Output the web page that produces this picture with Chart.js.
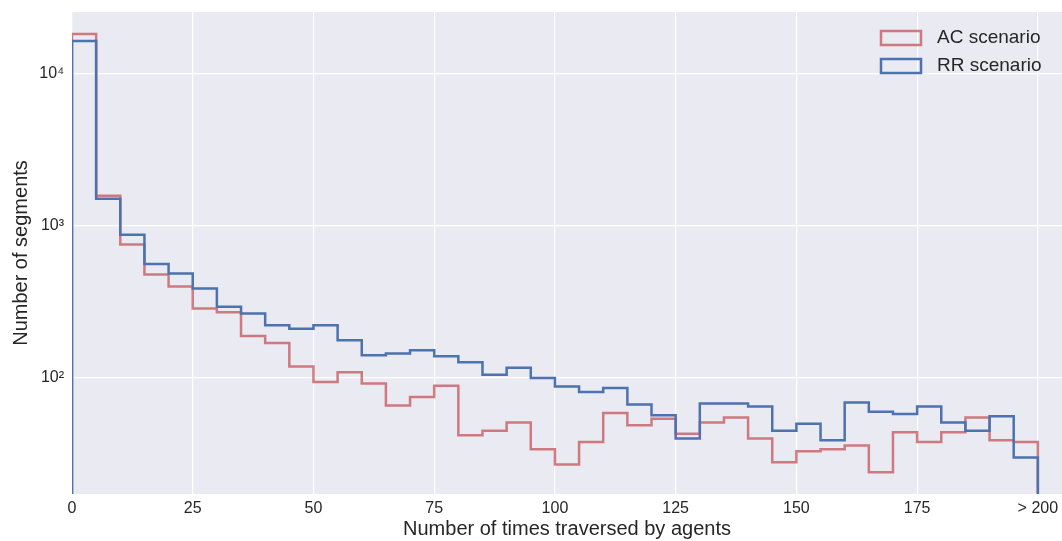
<!DOCTYPE html>
<html>
<head>
<meta charset="utf-8">
<script src="https://cdn.jsdelivr.net/npm/chart.js@4.4.1/dist/chart.umd.min.js"></script>
<style>
  html, body { margin: 0; padding: 0; background: #ffffff; }
  #chart { display: block; }
</style>
</head>
<body>
<canvas id="chart" width="1062" height="541"></canvas>
<script>
// histogram bin edges (width 5), last bin holds "> 200"
const binEdges = [0, 5, 10, 15, 20, 25, 30, 35, 40, 45, 50, 55, 60, 65, 70, 75, 80, 85, 90, 95,
  100, 105, 110, 115, 120, 125, 130, 135, 140, 145, 150, 155, 160, 165, 170, 175, 180, 185, 190, 195, 200];

// counts per bin
const acCounts = [18200, 1575, 753, 479, 400, 286, 270, 189, 170, 119,
  94, 109, 92, 66, 75, 89, 42, 45, 51, 34,
  27, 38, 59, 49, 54, 43, 51, 55, 40, 28,
  33, 34, 36, 24, 44, 38, 44, 55, 39, 38];
const rrCounts = [16400, 1505, 873, 562, 486, 387, 294, 265, 222, 211,
  222, 177, 141, 145, 152, 139, 127, 105, 117, 100,
  88, 81, 86, 67, 57, 40, 68, 68, 65, 45,
  50, 39, 69, 60, 58, 65, 51, 45, 56, 30];

const seriesNames = ['AC scenario', 'RR scenario'];

const xTicks = [0, 25, 50, 75, 100, 125, 150, 175, 200];
const xTickLabels = ['0', '25', '50', '75', '100', '125', '150', '175', '> 200'];
const yTicks = [100, 1000, 10000];
const yTickLabels = ['10\u00B2', '10\u00B3', '10\u2074'];

const FONT = '"Liberation Sans", Arial, sans-serif';
const TEXT = '#262626';
const acColor = 'rgba(196, 78, 82, 0.72)';
const rrColor = '#4C72B0';

// outline of a step histogram (like histtype='step'), dropping to the floor at both ends
function stepOutline(counts) {
  const floor = 1;
  const pts = [{ x: binEdges[0], y: floor }];
  counts.forEach((c, i) => {
    pts.push({ x: binEdges[i], y: c });
    pts.push({ x: binEdges[i + 1], y: c });
  });
  pts.push({ x: binEdges[binEdges.length - 1], y: floor });
  return pts;
}

const plotBg = {
  id: 'plotBg',
  beforeDraw(chart) {
    const { ctx, chartArea: a } = chart;
    ctx.save();
    ctx.fillStyle = '#EAEAF2';
    ctx.fillRect(a.left, a.top, a.right - a.left, a.bottom - a.top);
    ctx.restore();
  }
};

// seaborn-like legend: hollow boxes, top right inside the axes
const boxLegend = {
  id: 'boxLegend',
  afterDraw(chart) {
    const { ctx } = chart;
    const entries = [
      { label: seriesNames[0], color: acColor },
      { label: seriesNames[1], color: rrColor }
    ];
    ctx.save();
    ctx.font = '19px ' + FONT;
    ctx.textBaseline = 'middle';
    entries.forEach((e, i) => {
      const cy = 38 + i * 28;
      ctx.strokeStyle = e.color;
      ctx.lineWidth = 2.5;
      ctx.strokeRect(881, cy - 7, 40, 14);
      ctx.fillStyle = TEXT;
      ctx.fillText(e.label, 937, cy);
    });
    ctx.restore();
  }
};

new Chart(document.getElementById('chart'), {
  type: 'line',
  data: {
    datasets: [
      {
        label: seriesNames[0],
        data: stepOutline(acCounts),
        borderColor: acColor,
        borderWidth: 2.5,
        pointRadius: 0,
        fill: false,
        order: 1
      },
      {
        label: seriesNames[1],
        data: stepOutline(rrCounts),
        borderColor: rrColor,
        borderWidth: 2.5,
        pointRadius: 0,
        fill: false,
        order: 0
      }
    ]
  },
  options: {
    responsive: false,
    animation: false,
    devicePixelRatio: 1,
    layout: { padding: { top: 12, right: 0, left: 0, bottom: 0 } },
    plugins: {
      legend: { display: false },
      tooltip: { enabled: false }
    },
    scales: {
      x: {
        type: 'linear',
        min: 0,
        max: 205,
        afterBuildTicks: s => { s.ticks = xTicks.map(v => ({ value: v })); },
        afterFit: s => { s.height = 47; s.paddingLeft = 0; s.paddingRight = 0; },
        grid: { color: '#ffffff', lineWidth: 1.2, drawTicks: false },
        border: { display: false },
        ticks: {
          color: TEXT,
          padding: 5,
          maxRotation: 0,
          font: { family: FONT, size: 16 },
          callback: (v, i) => xTickLabels[i]
        },
        title: {
          display: true,
          text: 'Number of times traversed by agents',
          color: TEXT,
          font: { family: FONT, size: 20 },
          padding: 0
        }
      },
      y: {
        type: 'logarithmic',
        min: 17.3,
        max: 25400,
        afterBuildTicks: s => { s.ticks = yTicks.map(v => ({ value: v })); },
        afterFit: s => { s.width = 72; s.paddingTop = 0; s.paddingBottom = 0; },
        grid: { color: '#ffffff', lineWidth: 1.2, drawTicks: false },
        border: { display: false },
        ticks: {
          color: TEXT,
          padding: 8,
          font: { family: FONT, size: 16 },
          callback: (v, i) => yTickLabels[i]
        },
        title: {
          display: true,
          text: 'Number of segments',
          color: TEXT,
          font: { family: FONT, size: 20 },
          padding: { top: 9, bottom: 0 }
        }
      }
    }
  },
  plugins: [plotBg, boxLegend]
});
</script>
</body>
</html>
